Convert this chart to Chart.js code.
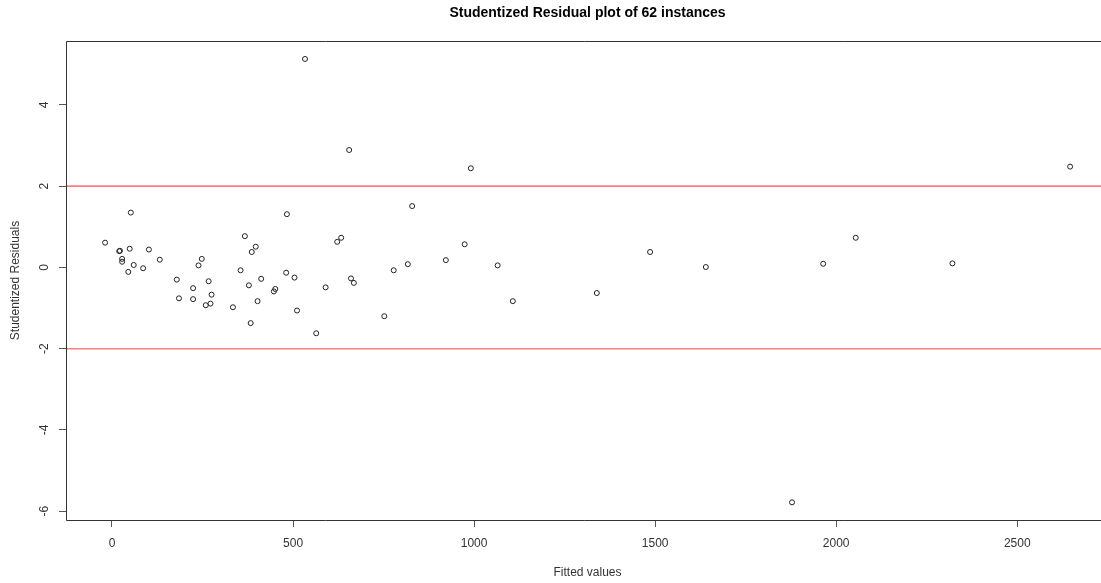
<!DOCTYPE html>
<html>
<head>
<meta charset="utf-8">
<script src="https://cdn.jsdelivr.net/npm/chart.js@4/dist/chart.umd.min.js"></script>
<style>
  html, body { margin: 0; padding: 0; background: #ffffff; overflow: hidden; }
  #wrap { width: 1101px; height: 583px; }
</style>
</head>
<body>
<div id="wrap"><canvas id="c" width="1101" height="583"></canvas></div>
<script>
// Fitted values and their studentized residuals (one entry per instance)
const fittedValues = [
  -19, 20, 22, 49, 52, 28, 28, 60, 45, 86, 102, 132, 179, 185, 224, 224,
  239, 248, 259, 267, 272, 275, 334, 355, 367, 378, 383, 386, 397, 402, 412,
  447, 451, 481, 483, 504, 511, 533, 564, 590, 622, 633, 655, 660, 668, 752,
  778, 817, 829, 922, 974, 991, 1065, 1107, 1339, 1486, 1640, 1878, 1964,
  2054, 2321, 2646
];
const studentizedResiduals = [
  0.61, 0.40, 0.41, 0.46, 1.35, 0.21, 0.14, 0.06, -0.11, -0.02, 0.44, 0.19,
  -0.30, -0.76, -0.51, -0.78, 0.05, 0.21, -0.93, -0.34, -0.89, -0.67, -0.98,
  -0.07, 0.77, -0.44, -1.37, 0.38, 0.51, -0.83, -0.28, -0.59, -0.53, -0.13,
  1.31, -0.25, -1.06, 5.13, -1.62, -0.49, 0.63, 0.73, 2.89, -0.27, -0.38,
  -1.20, -0.07, 0.08, 1.51, 0.18, 0.57, 2.44, 0.05, -0.83, -0.63, 0.38, 0.01,
  -5.78, 0.09, 0.73, 0.10, 2.48
];
const xTickValues = [0, 500, 1000, 1500, 2000, 2500];
const yTickValues = [-6, -4, -2, 0, 2, 4];
const cutoffLevels = [2, -2];

const chartTitle = 'Studentized Residual plot of ' + fittedValues.length + ' instances';
const xTitle = 'Fitted values';
const yTitle = 'Studentized Residuals';

const X_MIN = -127, X_MAX = 2731.3;
const Y_MIN = -6.215, Y_MAX = 5.572;
const FONT = '"Liberation Sans", Arial, sans-serif';

const points = fittedValues.map((x, i) => ({ x: x, y: studentizedResiduals[i] }));

const cutoffSets = cutoffLevels.map(level => ({
  type: 'line',
  data: [{ x: X_MIN, y: level }, { x: X_MAX, y: level }],
  borderColor: '#ff7f7f',
  borderWidth: 1.6,
  pointRadius: 0,
  fill: false,
  order: 0
}));

// Frame, titles and rotated y labels drawn on top of the scales
const decorations = {
  id: 'decorations',
  afterDraw(chart) {
    const ctx = chart.ctx;
    const a = chart.chartArea;
    const ys = chart.scales.y;
    const plotMid = (a.left + 1109) / 2;
    ctx.save();
    // plot frame
    ctx.strokeStyle = '#333333';
    ctx.lineWidth = 1;
    ctx.beginPath();
    ctx.moveTo(a.left + 0.5, a.bottom + 0.5);
    ctx.lineTo(a.left + 0.5, a.top + 0.5);
    ctx.lineTo(chart.width + 5, a.top + 0.5);
    ctx.moveTo(a.left + 0.5, a.bottom + 0.5);
    ctx.lineTo(chart.width + 5, a.bottom + 0.5);
    ctx.stroke();

    // y tick labels, reading upwards
    ctx.fillStyle = '#333333';
    ctx.font = '12px ' + FONT;
    ctx.textAlign = 'center';
    ctx.textBaseline = 'middle';
    yTickValues.forEach(v => {
      const py = ys.getPixelForValue(v);
      ctx.save();
      ctx.translate(45, py);
      ctx.rotate(-Math.PI / 2);
      ctx.fillText(String(v), 0, 0);
      ctx.restore();
    });

    // y axis title
    ctx.save();
    ctx.translate(16, (a.top + a.bottom) / 2);
    ctx.rotate(-Math.PI / 2);
    ctx.fillText(yTitle, 0, 0);
    ctx.restore();

    // x axis title
    ctx.fillText(xTitle, plotMid, 573);

    // main title
    ctx.fillStyle = '#000000';
    ctx.font = 'bold 14px ' + FONT;
    ctx.fillText(chartTitle, plotMid, 13);
    ctx.restore();
  }
};

new Chart(document.getElementById('c'), {
  type: 'scatter',
  data: {
    datasets: [
      {
        data: points,
        pointStyle: 'circle',
        pointRadius: 2.5,
        pointBorderWidth: 1,
        pointBorderColor: '#222222',
        pointBackgroundColor: 'rgba(0,0,0,0)',
        showLine: false,
        order: 1
      },
      ...cutoffSets
    ]
  },
  options: {
    responsive: false,
    animation: false,
    devicePixelRatio: 1,
    layout: { autoPadding: false, padding: { top: 41, left: 0, right: 0, bottom: 0 } },
    plugins: { legend: { display: false }, tooltip: { enabled: false }, title: { display: false } },
    scales: {
      x: {
        type: 'linear',
        min: X_MIN,
        max: X_MAX,
        afterBuildTicks: s => { s.ticks = xTickValues.map(v => ({ value: v })); },
        afterFit: s => { s.height = 63; s.paddingLeft = 0; s.paddingRight = 0; },
        border: { display: false },
        grid: { display: true, drawOnChartArea: false, drawTicks: true, tickLength: 7, color: '#555555', lineWidth: 1 },
        ticks: {
          color: '#333333',
          font: { family: FONT, size: 12 },
          padding: 9,
          maxRotation: 0,
          minRotation: 0,
          callback: v => String(v)
        }
      },
      y: {
        type: 'linear',
        min: Y_MIN,
        max: Y_MAX,
        afterBuildTicks: s => { s.ticks = yTickValues.map(v => ({ value: v })); },
        afterFit: s => { s.width = 66; s.paddingTop = 0; s.paddingBottom = 0; },
        border: { display: false },
        grid: { display: true, drawOnChartArea: false, drawTicks: true, tickLength: 7, color: '#555555', lineWidth: 1 },
        ticks: { display: false }
      }
    }
  },
  plugins: [decorations]
});
</script>
</body>
</html>
